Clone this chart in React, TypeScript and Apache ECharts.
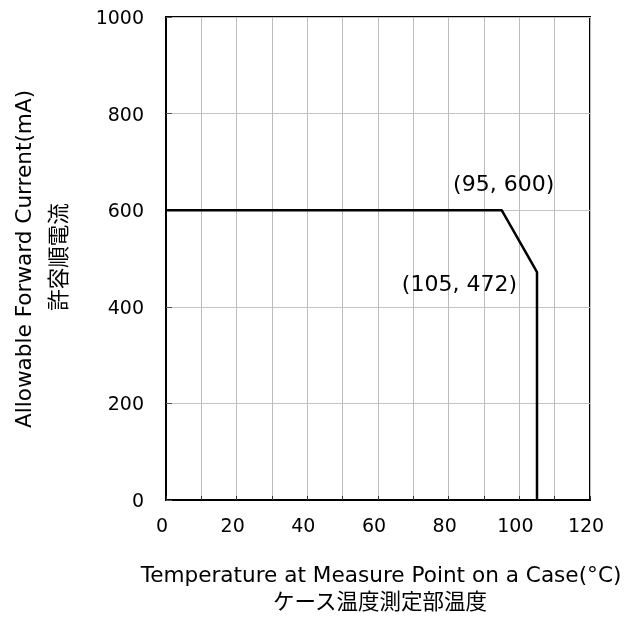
import React, { useEffect, useRef } from "react";
import * as echarts from "echarts";

const curveX = [0, 95, 105, 105];
const curveY = [600, 600, 472, 0];
const xTicks = [0, 20, 40, 60, 80, 100, 120];
const yTicks = [0, 200, 400, 600, 800, 1000];
const annotations = ["(95, 600)", "(105, 472)"];
const xTitle = ["Temperature at Measure Point on a Case(°C)", "ケース温度測定部温度"];
const yTitle = ["Allowable Forward Current(mA)", "許容順電流"];

const FONT = "'DejaVu Sans', 'Noto Sans CJK JP', sans-serif";

export default function App() {
  const ref = useRef<HTMLDivElement>(null);
  useEffect(() => {
    if (!ref.current) return;
    const chart = echarts.init(ref.current, null, { renderer: "svg" });
    const lineData = curveX.map((x, i) => [x, curveY[i]]);
    const labelData = [
      {
        value: lineData[1],
        label: { show: true, formatter: annotations[0], position: "top", offset: [2, -11] },
      },
      {
        value: lineData[2],
        label: { show: true, formatter: annotations[1], position: "left", offset: [-15, 11] },
      },
    ];
    chart.setOption({
      animation: false,
      grid: {
        left: 166,
        right: 34,
        top: 17,
        bottom: 118,
        show: true,
        borderColor: "#000",
        borderWidth: 2,
        containLabel: false,
      },
      xAxis: {
        type: "value",
        min: xTicks[0],
        max: xTicks[xTicks.length - 1],
        interval: 10,
        axisLine: { show: true, lineStyle: { color: "#000", width: 2 } },
        axisTick: { show: true, inside: true, length: 4, interval: 1, lineStyle: { color: "#333" } },
        axisLabel: {
          interval: 1,
          margin: 15,
          fontSize: 19,
          color: "#000",
          fontFamily: FONT,
          padding: [0, 8, 0, 0],
          formatter: (v: number) => (xTicks.includes(v) ? String(v) : ""),
        },
        splitLine: { show: true, lineStyle: { color: "#bcbcbc", width: 1 } },
      },
      yAxis: {
        type: "value",
        min: yTicks[0],
        max: yTicks[yTicks.length - 1],
        interval: 200,
        axisLine: { show: true, lineStyle: { color: "#000", width: 2 } },
        axisTick: { show: true, inside: true, length: 6, lineStyle: { color: "#555" } },
        axisLabel: {
          margin: 22,
          fontSize: 19,
          color: "#000",
          fontFamily: FONT,
          formatter: (v: number) => String(v),
        },
        splitLine: { show: true, lineStyle: { color: "#c4c4c4", width: 1 } },
      },
      series: [
        {
          type: "line",
          data: lineData,
          symbol: "none",
          lineStyle: { color: "#000", width: 2.5 },
          z: 5,
        },
        {
          type: "scatter",
          data: labelData,
          symbolSize: 0,
          itemStyle: { color: "rgba(0,0,0,0)", opacity: 1 },
          label: { fontSize: 22, color: "#000", fontFamily: FONT },
          z: 6,
          silent: true,
        },
      ],
      graphic: [
        {
          type: "text",
          x: 381,
          y: 574,
          style: { text: xTitle[0], fontSize: 21.6, fontFamily: FONT, fill: "#000", textAlign: "center", textVerticalAlign: "middle" },
        },
        {
          type: "text",
          x: 380,
          y: 601,
          style: { text: xTitle[1], fontSize: 21.5, fontFamily: FONT, fill: "#000", textAlign: "center", textVerticalAlign: "middle" },
        },
        {
          type: "text",
          x: 23,
          y: 259,
          rotation: Math.PI / 2,
          style: { text: yTitle[0], fontSize: 21.6, fontFamily: FONT, fill: "#000", textAlign: "center", textVerticalAlign: "middle" },
        },
        {
          type: "text",
          x: 58,
          y: 257,
          rotation: Math.PI / 2,
          style: { text: yTitle[1], fontSize: 21.5, fontFamily: FONT, fill: "#000", textAlign: "center", textVerticalAlign: "middle" },
        },
      ],
    });
    return () => chart.dispose();
  }, []);
  return <div ref={ref} style={{ position: "fixed", left: 0, top: 0, width: 624, height: 618 }} />;
}
